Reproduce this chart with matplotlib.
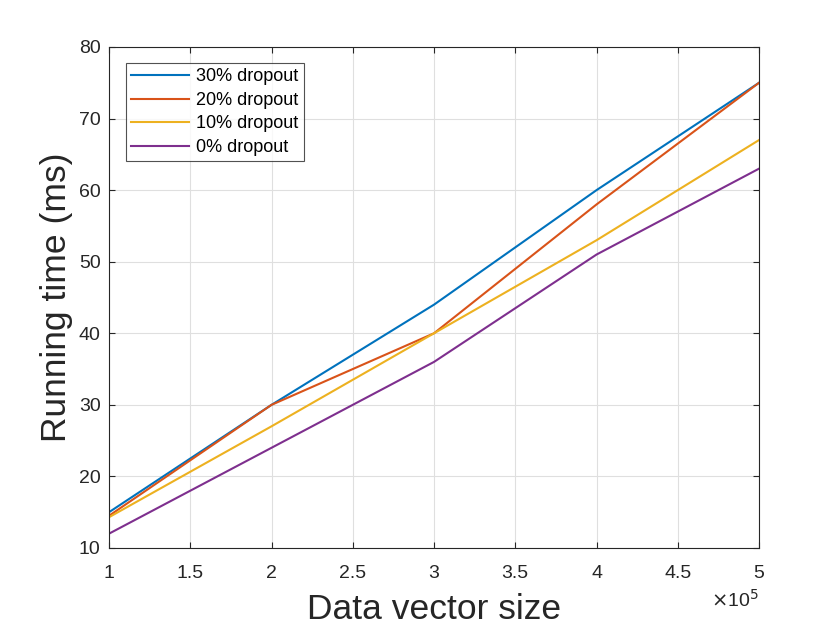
import matplotlib
matplotlib.use("Agg")
import matplotlib.pyplot as plt
from matplotlib.ticker import FuncFormatter, MultipleLocator

plt.rcParams['font.family'] = ['Liberation Sans', 'DejaVu Sans']

sizes = [1e5, 2e5, 3e5, 4e5, 5e5]
drop30 = [15, 30, 44, 60, 75]
drop20 = [14.5, 30, 40, 58, 75]
drop10 = [14.3, 27, 40, 53, 67]
drop0 = [12, 24, 36, 51, 63]
labels = ['30% dropout', '20% dropout', '10% dropout', '0% dropout']
colors = ['#0072BD', '#D95319', '#EDB120', '#7E2F8E']

fig = plt.figure(figsize=(8.4, 6.3), dpi=100)
ax = fig.add_axes([0.1298, 0.1302, 0.9036 - 0.1298, 0.9254 - 0.1302])

for ys, lab, c in zip([drop30, drop20, drop10, drop0], labels, colors):
    ax.plot(sizes, ys, color=c, lw=1.5, label=lab)

ax.set_xlim(1e5, 5e5)
ax.set_ylim(10, 80)
ax.xaxis.set_major_locator(MultipleLocator(0.5e5))
ax.yaxis.set_major_locator(MultipleLocator(10))
ax.xaxis.set_major_formatter(FuncFormatter(lambda v, p: f"{v/1e5:g}"))
ax.grid(True, color='#dfdfdf', lw=0.8)
ax.set_axisbelow(True)
ax.tick_params(direction='in', top=True, right=True, length=4, width=0.8,
               labelsize=14, colors='#262626')
ax.tick_params(axis='x', pad=12)
ax.tick_params(axis='y', pad=6)
for s in ax.spines.values():
    s.set_color('#262626')
    s.set_linewidth(0.8)

ax.set_xlabel('Data vector size', fontsize=25.5, color='#262626', labelpad=8)
ax.set_ylabel('Running time (ms)', fontsize=25.5, color='#262626', labelpad=4)
ax.text(1.0, -0.104, r'$\times$10$^5$', transform=ax.transAxes, ha='right',
        va='center', fontsize=14, color='#262626')

leg = ax.legend(loc='upper left', bbox_to_anchor=(0.026, 0.968), fontsize=13,
                frameon=True, fancybox=False, borderpad=0.3, labelspacing=0.36,
                handlelength=3.2, handletextpad=0.4, borderaxespad=0)
leg.get_frame().set_edgecolor('#262626')
leg.get_frame().set_linewidth(0.8)

fig.savefig('out.png', dpi=100, facecolor='white')
